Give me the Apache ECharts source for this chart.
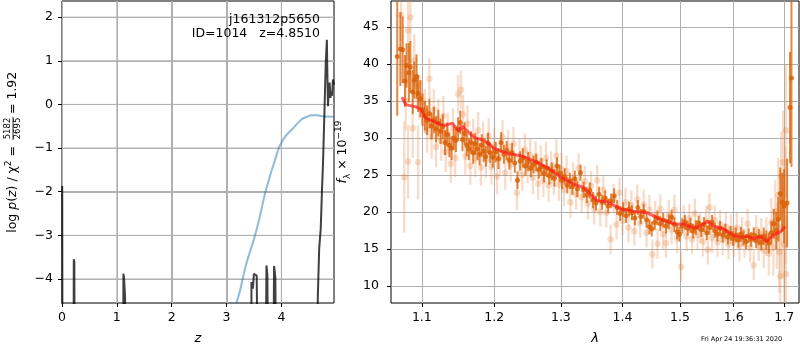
<!DOCTYPE html>
<html><head><meta charset="utf-8">
<script src="https://cdn.jsdelivr.net/npm/echarts@6/dist/echarts.min.js"></script>
<style>html,body{margin:0;padding:0;background:#fff}#c{width:800px;height:350px}</style>
</head><body><div id="c"></div>
<script>
// ---- left panel: log p(z) ----
const pzZ =   [0.004, 0.012, 0.205, 0.215, 0.225, 0.235, 1.11, 1.12, 1.13, 1.15, 1.16, 3.45, 3.455, 3.47, 3.48, 3.50, 3.52, 3.55, 3.575, 3.595, 3.70, 3.728, 3.745, 3.776, 3.84, 3.867, 3.89, 3.922, 4.655, 4.665, 4.69, 4.718, 4.74, 4.76, 4.785, 4.81, 4.83, 4.838, 4.85, 4.865, 4.88, 4.895, 4.91, 4.925, 4.94, 4.96];
const pzLog = [-1.87, -9, -9, -3.55, -3.6, -9, -9, -3.88, -3.95, -4.4, -9, -9, -4.07, -4.1, -4.22, -3.88, -3.9, -3.92, -3.92, -9, -9, -3.69, -3.9, -9, -9, -3.70, -3.95, -9, -9, -4.4, -3.3, -2.85, -2.0, -1.33, -0.2, 0.96, 1.48, 0.8, -0.04, 0.35, 0.5, 0.15, 0.3, 0.2, 0.57, 0.45];
const priorZ =   [3.10, 3.18, 3.24, 3.35, 3.52, 3.62, 3.70, 3.79, 3.88, 3.97, 4.08, 4.21, 4.37, 4.47, 4.55, 4.65, 4.75, 4.96];
const priorLog = [-4.9, -4.55, -4.3, -3.7, -3.0, -2.5, -2.05, -1.65, -1.29, -0.95, -0.72, -0.55, -0.34, -0.28, -0.25, -0.25, -0.27, -0.28];
const zTicks = [0, 1, 2, 3, 4];
const logpTicks = [-4, -3, -2, -1, 0, 1, 2];

// ---- right panel: spectrum ----
const lamTicks = [1.1, 1.2, 1.3, 1.4, 1.5, 1.6, 1.7];
const fluxTicks = [10, 15, 20, 25, 30, 35, 40, 45];
const modelLam  = [1.074, 1.079, 1.092, 1.099, 1.105, 1.114, 1.125, 1.132, 1.141, 1.150, 1.155, 1.157, 1.164, 1.173, 1.185, 1.200, 1.219, 1.239, 1.259, 1.279, 1.300, 1.320, 1.336, 1.358, 1.374, 1.397, 1.419, 1.442, 1.465, 1.489, 1.507, 1.525, 1.537, 1.550, 1.562, 1.581, 1.600, 1.613, 1.626, 1.639, 1.652, 1.665, 1.678, 1.692, 1.702];
const modelFlux = [35.5, 34.5, 34.2, 33.85, 32.7, 32.3, 31.8, 31.7, 32.0, 30.9, 31.6, 31.7, 30.7, 30.0, 29.7, 28.6, 27.9, 27.6, 26.9, 26.0, 24.7, 23.75, 23.3, 21.5, 21.4, 20.4, 20.1, 19.9, 19.0, 18.4, 18.35, 17.8, 18.1, 18.75, 18.1, 17.7, 16.8, 16.6, 16.7, 16.4, 16.7, 16.0, 16.9, 17.3, 18.0];

const darkLam = [1.068,1.072,1.075,1.078,1.080,1.083,1.085,1.088,1.090,1.093,1.095,1.098,1.101,1.104,1.107,1.110,1.113,1.116,1.119,1.122,1.125,1.128,1.131,1.134,1.137,1.140,1.143,1.146,1.149,1.152,1.155,1.158,1.161,1.164,1.167,1.170,1.173,1.176,1.179,1.182,1.185,1.188,1.191,1.194,1.198,1.202,1.206,1.210,1.214,1.218,1.222,1.226,1.230,1.234,1.238,1.242,1.246,1.250,1.254,1.258,1.262,1.266,1.270,1.274,1.278,1.282,1.286,1.290,1.294,1.298,1.302,1.306,1.310,1.314,1.318,1.322,1.326,1.331,1.336,1.341,1.346,1.351,1.356,1.361,1.366,1.371,1.376,1.381,1.386,1.391,1.396,1.401,1.406,1.411,1.416,1.421,1.426,1.431,1.436,1.441,1.446,1.450,1.455,1.460,1.465,1.470,1.475,1.480,1.485,1.490,1.495,1.499,1.504,1.509,1.514,1.519,1.524,1.529,1.534,1.539,1.544,1.549,1.554,1.559,1.564,1.569,1.574,1.579,1.584,1.589,1.594,1.599,1.604,1.609,1.614,1.619,1.624,1.629,1.634,1.639,1.644,1.649,1.654,1.659,1.664,1.669,1.674,1.679,1.684,1.688,1.692,1.696,1.700,1.706,1.712,1.715];
const darkFlux = [41.0,42.0,41.9,37.7,39.8,38.8,39.6,36.2,37.8,38.3,36.0,35.3,33.8,33.0,32.4,33.3,31.6,32.4,31.2,32.0,30.9,31.5,29.4,30.5,29.0,28.6,30.0,29.7,31.2,32.1,29.8,30.6,29.0,28.5,29.4,28.0,29.2,28.5,27.8,29.0,28.2,27.5,29.3,28.0,27.4,28.1,27.2,29.4,27.8,28.3,27.0,28.0,26.6,24.3,26.9,27.3,26.2,26.8,25.9,26.4,26.7,25.7,26.1,25.2,25.9,24.9,25.5,24.6,26.2,25.2,24.3,24.8,23.6,24.2,23.4,24.5,23.1,25.3,23.0,22.3,22.9,21.6,21.2,22.4,21.3,21.9,20.8,21.5,22.2,20.6,19.8,20.3,19.5,20.4,19.9,19.2,20.6,19.4,20.1,18.9,18.0,17.7,18.6,19.2,18.4,18.9,18.1,18.7,19.3,18.3,17.3,17.0,18.1,18.6,17.8,18.2,17.4,17.9,18.5,17.6,18.3,17.2,17.9,18.6,17.5,17.0,17.8,16.9,17.4,16.6,17.1,16.4,16.9,16.2,17.0,16.5,16.0,16.8,16.3,16.9,16.1,16.6,15.9,16.7,16.2,15.8,17.2,18.4,17.5,19.0,22.5,21.3,20.8,21.2,34.1,38.1];
const darkErr  = [8.0,5.0,4.5,3.5,3.0,4.0,3.5,3.0,2.5,3.0,2.5,2.5,2.2,2.0,2.0,2.0,1.8,1.8,1.8,1.8,1.7,1.7,1.7,1.6,1.6,1.6,1.6,1.6,1.6,1.6,1.6,1.5,1.5,1.5,1.5,1.5,1.5,1.5,1.5,1.5,1.4,1.4,1.4,1.4,1.4,1.4,1.4,1.4,1.3,1.3,1.3,1.3,1.3,1.2,1.3,1.3,1.3,1.3,1.2,1.2,1.2,1.2,1.2,1.2,1.2,1.2,1.2,1.2,1.2,1.2,1.2,1.1,1.1,1.1,1.1,1.1,1.1,1.1,1.1,1.1,1.1,1.1,1.0,1.0,1.0,1.0,1.0,1.0,1.0,1.0,1.0,1.0,1.0,1.0,1.0,1.0,1.0,1.0,1.0,1.0,1.0,1.0,1.0,1.0,1.0,1.0,1.0,1.0,1.0,1.0,1.0,1.0,1.0,1.0,1.0,1.0,1.0,1.0,1.0,1.0,1.0,1.0,1.0,1.0,1.0,1.0,1.0,1.0,1.0,1.0,1.0,1.0,1.0,1.0,1.0,1.0,1.0,1.0,1.0,1.0,1.0,1.1,1.1,1.2,1.3,1.4,1.6,2.0,2.5,3.0,3.5,4.0,5.0,6.0,7.5,12.0];

const lightLam = [1.073,1.077,1.079,1.082,1.082,1.085,1.088,1.090,1.093,1.095,1.097,1.100,1.104,1.107,1.110,1.113,1.116,1.119,1.122,1.126,1.129,1.132,1.135,1.139,1.142,1.145,1.149,1.153,1.156,1.159,1.162,1.166,1.170,1.173,1.177,1.181,1.184,1.188,1.192,1.196,1.200,1.204,1.208,1.212,1.216,1.220,1.224,1.228,1.233,1.237,1.241,1.245,1.249,1.253,1.257,1.261,1.265,1.269,1.273,1.277,1.281,1.285,1.289,1.293,1.297,1.301,1.305,1.309,1.315,1.319,1.324,1.328,1.333,1.338,1.343,1.348,1.353,1.358,1.363,1.368,1.373,1.380,1.385,1.390,1.395,1.400,1.405,1.410,1.415,1.420,1.425,1.430,1.436,1.441,1.446,1.451,1.456,1.460,1.465,1.470,1.475,1.480,1.485,1.490,1.495,1.502,1.507,1.512,1.517,1.522,1.527,1.532,1.537,1.542,1.548,1.551,1.554,1.559,1.564,1.569,1.574,1.579,1.585,1.590,1.595,1.600,1.606,1.611,1.616,1.621,1.627,1.632,1.639,1.644,1.649,1.654,1.659,1.664,1.669,1.674,1.678,1.682,1.685,1.688,1.690,1.692,1.694,1.696,1.698,1.700,1.702,1.704,1.704];
const lightFlux = [46.6,24.7,35.0,44.5,26.8,46.3,31.3,40.5,37.0,26.7,35.5,34.8,33.6,31.0,38.0,30.2,33.8,28.8,32.5,29.6,33.0,28.1,30.8,26.5,31.4,27.3,35.9,36.5,33.2,27.5,31.9,26.2,30.1,27.2,31.0,26.0,29.8,27.0,30.3,26.1,29.0,24.8,27.4,30.1,25.3,28.8,26.4,29.2,22.6,27.5,25.0,28.4,26.1,27.7,24.6,27.4,23.8,26.8,24.2,27.3,23.6,26.0,24.5,27.6,23.7,25.8,23.0,25.5,21.3,24.6,22.4,25.9,22.0,24.1,21.1,23.5,20.4,24.3,20.0,23.0,19.9,16.3,21.8,18.3,22.6,18.8,21.3,17.9,20.9,17.4,21.7,18.5,21.0,17.2,20.3,14.3,19.5,15.7,20.4,17.0,15.8,19.6,17.6,20.3,16.4,12.6,18.9,16.7,19.1,16.3,19.8,16.9,17.8,16.0,18.8,14.9,20.6,16.5,18.9,15.9,18.3,16.2,18.0,15.6,17.7,15.9,17.9,15.3,17.3,15.8,18.4,15.2,12.8,17.6,15.4,17.0,14.8,16.7,14.4,18.6,15.2,20.1,16.8,22.3,14.6,11.3,24.8,18.0,26.7,15.6,20.9,31.0,11.6];
const lightErr  = [3.5,7.5,4.0,4.0,5.0,3.5,4.0,3.5,3.0,5.0,3.0,3.0,3.0,3.0,2.8,3.0,2.8,2.8,2.8,2.7,2.7,2.7,2.6,2.6,2.6,2.6,2.6,2.6,2.6,2.5,2.5,2.5,2.5,2.5,2.5,2.5,2.4,2.4,2.4,2.4,2.4,2.4,2.4,2.3,2.3,2.3,2.3,2.3,2.3,2.3,2.2,2.2,2.2,2.2,2.2,2.2,2.2,2.2,2.2,2.2,2.2,2.2,2.2,2.2,2.2,2.2,2.2,2.1,2.1,2.1,2.1,2.1,2.1,2.1,2.1,2.1,2.1,2.1,2.0,2.0,2.0,2.0,2.0,2.0,2.0,2.0,2.0,2.0,2.0,2.0,2.0,2.0,2.0,2.0,2.0,2.0,2.0,2.0,2.0,2.0,2.0,2.0,2.0,2.0,2.0,2.0,2.0,2.0,2.0,2.0,2.0,2.0,2.0,2.0,2.0,2.0,2.0,2.0,2.0,2.0,2.0,2.0,2.0,2.0,2.0,2.0,2.0,2.0,2.0,2.0,2.0,2.0,2.0,2.0,2.0,2.2,2.4,2.6,3.0,3.3,3.8,4.2,4.5,5.0,5.5,6.0,6.0,7.0,7.0,8.0,8.0,9.0,8.0];

const zip = (a, b, c) => a.map((v, i) => c ? [v, b[i], c[i]] : [v, b[i]]);
const minus = v => String(v).replace('-', '\u2212');
const FONT = 'DejaVu Sans';
const ORANGE = 'rgb(217,95,2)';
const GRIDCOL = '#b0b0b0';

function errRender(color, width) {
  return function (params, api) {
    const cs = params.coordSys;
    const x = api.value(0), y = api.value(1), e = api.value(2);
    const p1 = api.coord([x, y - e]), p2 = api.coord([x, y + e]);
    const top = cs.y, bot = cs.y + cs.height;
    const y1 = Math.min(Math.max(p1[1], top), bot), y2 = Math.min(Math.max(p2[1], top), bot);
    if (p1[0] < cs.x || p1[0] > cs.x + cs.width) return null;
    return { type: 'line', shape: { x1: p1[0], y1: y1, x2: p1[0], y2: y2 },
             style: { stroke: color, lineWidth: width } };
  };
}

// left-panel gridlines, one item per tick, placed through the axes' scales
const gridItems = zTicks.filter(v => v > 0).map(v => [0, v]).concat(logpTicks.map(v => [1, v]));
function gridRender(params, api) {
  const cs = params.coordSys;
  const kind = api.value(0), v = api.value(1);
  if (kind === 0) {
    const x = api.coord([v, 0])[0];
    return { type: 'line', shape: { x1: x, y1: cs.y, x2: x, y2: cs.y + cs.height }, style: { stroke: GRIDCOL, lineWidth: 1 } };
  }
  const y = api.coord([0, v])[1];
  return { type: 'line', shape: { x1: cs.x, y1: y, x2: cs.x + cs.width, y2: y }, style: { stroke: GRIDCOL, lineWidth: 1 } };
}

function valAxis(gridIndex, min, max, ticks, margin, extra) {
  return Object.assign({
    type: 'value', gridIndex, min, max,
    axisLine: { show: false, onZero: false },
    axisTick: { show: true, length: 4, lineStyle: { color: '#000' }, customValues: ticks },
    axisLabel: { color: '#000', fontSize: 12.5, fontFamily: FONT, margin, customValues: ticks, formatter: minus },
    splitLine: { show: true, lineStyle: { color: GRIDCOL, width: 1 }, customValues: ticks }
  }, extra || {});
}

const textGraphics = [
  { type: 'text', right: 800 - 320, top: 13, style: { text: 'j161312p5650', font: '12.5px "DejaVu Sans"', fill: '#000', align: 'right' }, z: 10 },
  { type: 'text', right: 800 - 320, top: 27, style: { text: 'ID=1014   z=4.8510', font: '12.5px "DejaVu Sans"', fill: '#000', align: 'right' }, z: 10 },
  { type: 'text', left: 701, top: 336, style: { text: 'Fri Apr 24 19:36:31 2020', font: '6.5px "DejaVu Sans"', fill: '#000' }, z: 10 },
  { type: 'group', x: 13, y: 238, rotation: Math.PI / 2, z: 10, children: [
    { type: 'text', x: 96, y: 0, z: 10, style: { text: 'log {i|p}({i|z}) / χ{sup|2} = ', font: '12.5px "DejaVu Sans"', fill: '#000',
      align: 'right', verticalAlign: 'middle', lineHeight: 18,
      rich: { i: { fontStyle: 'italic', fontSize: 12.5, fontFamily: FONT, fill: '#000' },
              sup: { fontSize: 9, verticalAlign: 'top', fontFamily: FONT, fill: '#000' } } } },
    { type: 'text', x: 109.5, y: -5, z: 10, style: { text: '5182', font: '8.5px "DejaVu Sans"', fill: '#000', align: 'center', verticalAlign: 'middle' } },
    { type: 'text', x: 109.5, y: 5, z: 10, style: { text: '2695', font: '8.5px "DejaVu Sans"', fill: '#000', align: 'center', verticalAlign: 'middle' } },
    { type: 'line', z: 10, shape: { x1: 98, y1: 0, x2: 121, y2: 0 }, style: { stroke: '#000', lineWidth: 0.8 } },
    { type: 'text', x: 124, y: 0, z: 10, style: { text: '= 1.92', font: '12.5px "DejaVu Sans"', fill: '#000', align: 'left', verticalAlign: 'middle' } }
  ] }
];

const chart = echarts.init(document.getElementById('c'), null, { renderer: 'canvas' });
chart.setOption({
  animation: false,
  grid: [
    { left: 62, right: 466, top: 1, bottom: 46, show: true, borderColor: '#000', borderWidth: 1 },
    { left: 391, right: 1, top: 1, bottom: 46, show: true, borderColor: '#000', borderWidth: 1 }
  ],
  xAxis: [
    valAxis(0, 0, 4.96, zTicks, 8, { name: 'z', nameLocation: 'middle', nameGap: 29,
      nameTextStyle: { fontStyle: 'italic', fontSize: 13, fontFamily: FONT, color: '#000' } }),
    Object.assign(valAxis(1, 1.06, 1.7306, lamTicks, 8, { name: 'λ', nameLocation: 'middle', nameGap: 29,
      nameTextStyle: { fontStyle: 'italic', fontSize: 13, fontFamily: FONT, color: '#000' } }), { type: 'log', logBase: 10 })
  ],
  yAxis: [
    valAxis(0, -4.55, 2.37, logpTicks, 9),
    valAxis(1, 7.7, 48.5, fluxTicks, 12, { name: '{i|f}{sub|λ} × 10{sup|−19}', nameLocation: 'middle', nameRotate: 90, nameGap: 38,
      nameTextStyle: { fontSize: 12.5, fontFamily: FONT, color: '#000', lineHeight: 18,
        rich: { i: { fontStyle: 'italic', fontSize: 12.5, fontFamily: FONT, color: '#000' },
                sub: { fontSize: 9, verticalAlign: 'bottom', fontFamily: FONT, color: '#000' },
                sup: { fontSize: 9, verticalAlign: 'top', fontFamily: FONT, color: '#000' } } } })
  ],
  series: [
    { type: 'custom', xAxisIndex: 0, yAxisIndex: 0, data: gridItems, encode: { x: -1, y: -1 }, renderItem: gridRender, z: 1.5 },
    { type: 'line', xAxisIndex: 0, yAxisIndex: 0, data: zip(pzZ, pzLog), showSymbol: false, clip: true,
      lineStyle: { color: 'rgba(0,0,0,0.75)', width: 2 }, z: 3 },
    { type: 'line', xAxisIndex: 0, yAxisIndex: 0, data: zip(priorZ, priorLog), showSymbol: false, clip: true, smooth: 0.3,
      lineStyle: { color: 'rgba(31,119,180,0.5)', width: 2 }, z: 2 },
    { type: 'custom', xAxisIndex: 1, yAxisIndex: 1, data: zip(lightLam, lightFlux, lightErr),
      encode: { x: 0, y: 1 }, renderItem: errRender('rgba(232,140,75,0.3)', 2.3), z: 2 },
    { type: 'scatter', xAxisIndex: 1, yAxisIndex: 1, data: zip(lightLam, lightFlux), symbolSize: 6.5, clip: true,
      itemStyle: { color: 'rgba(225,120,45,0.3)' }, z: 2 },
    { type: 'custom', xAxisIndex: 1, yAxisIndex: 1, data: zip(darkLam, darkFlux, darkErr),
      encode: { x: 0, y: 1 }, renderItem: errRender('rgba(217,95,2,0.75)', 2), z: 3 },
    { type: 'scatter', xAxisIndex: 1, yAxisIndex: 1, data: zip(darkLam, darkFlux), symbolSize: 5, clip: true,
      itemStyle: { color: ORANGE }, z: 3 },
    { type: 'line', xAxisIndex: 1, yAxisIndex: 1, data: zip(modelLam, modelFlux), showSymbol: false, clip: true,
      lineStyle: { color: 'rgba(255,20,20,0.65)', width: 3 }, z: 4 }
  ]
});

// second pass: gridlines of the left panel as graphic lines, positioned with convertToPixel
const yTop = chart.convertToPixel({ yAxisIndex: 0 }, 2.37), yBot = chart.convertToPixel({ yAxisIndex: 0 }, -4.55);
const xL = chart.convertToPixel({ xAxisIndex: 0 }, 0), xR = chart.convertToPixel({ xAxisIndex: 0 }, 4.96);
const gridGraphics = [];
zTicks.filter(v => v > 0).forEach(v => {
  const x = Math.round(chart.convertToPixel({ xAxisIndex: 0 }, v)) + 0.5;
  gridGraphics.push({ type: 'line', silent: true, z: 1.5, shape: { x1: x, y1: yTop, x2: x, y2: yBot }, style: { stroke: GRIDCOL, lineWidth: 1 } });
});
logpTicks.forEach(v => {
  const y = Math.round(chart.convertToPixel({ yAxisIndex: 0 }, v)) + 0.5;
  gridGraphics.push({ type: 'line', silent: true, z: 1.5, shape: { x1: xL, y1: y, x2: xR, y2: y }, style: { stroke: GRIDCOL, lineWidth: 1 } });
});
chart.setOption({ graphic: gridGraphics.concat(textGraphics) });
</script></body></html>
